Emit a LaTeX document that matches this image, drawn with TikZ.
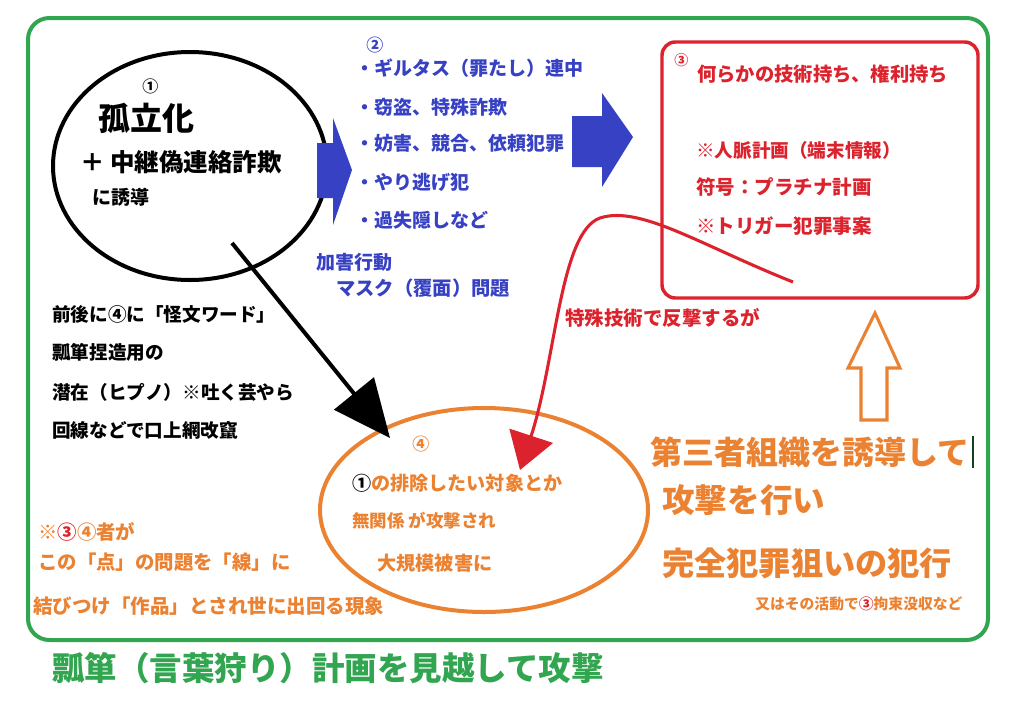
\documentclass[tikz,border=0pt]{standalone}
\usepackage{fontspec}
\setmainfont{Noto Sans CJK JP}
\usetikzlibrary{shapes.geometric,arrows.meta}
\definecolor{grn}{RGB}{50,165,80}
\definecolor{blu}{RGB}{55,65,195}
\definecolor{redc}{RGB}{220,35,45}
\definecolor{org}{RGB}{235,130,50}
\begin{document}
\begin{tikzpicture}[x=0.75pt,y=-0.75pt,
  f/.style={anchor=west,inner sep=0pt,font=\bfseries\fontsize{\the\dimexpr#1pt*3/4\relax}{\the\dimexpr#1pt*3/4\relax}\selectfont},
  frame/.style={draw=grn,line width=3pt,rounded corners=16pt,minimum width=720pt,minimum height=466.5pt,inner sep=0pt},
  redbox/.style={draw=redc,line width=2.6pt,rounded corners=10pt,minimum width=237pt,minimum height=192pt,inner sep=0pt},
  bell/.style={ellipse,draw=black,line width=3pt,minimum width=205.5pt,minimum height=171pt,inner sep=0pt},
  oell/.style={ellipse,draw=org,line width=3pt,minimum width=246pt,minimum height=153pt,inner sep=0pt}]
\useasboundingbox (0,0) rectangle (1024,725);
\fill[white] (0,0) rectangle (1024,725);
% frames
\node[frame] (fr) at (508,329) {};
\node[redbox] (rb) at (820,170) {};
\node[bell] (e1) at (190,166) {};
\node[oell] (e4) at (484,510) {};
% ellipse 1 text
\node[f=16] (n1) at (142,86) {①};
\node[f=32] (k1) at (98,118) {孤立化};
\node[f=24.5] (k2) at (80,162) {＋ 中継偽連絡詐欺};
\node[f=19] (k3) at (92,197) {に誘導};
% blue arrows
\fill[blu] (317,143) -- (333,143) -- (333,118) -- (352,170) -- (333,225) -- (333,198) -- (317,198) -- cycle;
\fill[blu] (572,116) -- (602,116) -- (602,93) -- (633,137) -- (602,187) -- (602,167) -- (572,167) -- cycle;
% blue text
\begin{scope}[blu]
\node[f=17,text=blu] (n2) at (366,45) {②};
\node[f=19,text=blu] (b1) at (355,68) {・ギルタス（罪たし）連中};
\node[f=19,text=blu] (b2) at (355,107) {・窃盗、特殊詐欺};
\node[f=19,text=blu] (b3) at (355,143) {・妨害、競合、依頼犯罪};
\node[f=19,text=blu] (b4) at (355,182) {・やり逃げ犯};
\node[f=19,text=blu] (b5) at (355,220) {・過失隠しなど};
\node[f=19,text=blu] (b6) at (316,262) {加害行動};
\node[f=19.3,text=blu] (b7) at (336,288) {マスク（覆面）問題};
\end{scope}
% red box text
\node[f=14,text=redc] (n3) at (674,60) {③};
\node[f=19.3,text=redc] (r1) at (697,74) {何らかの技術持ち、権利持ち};
\node[f=18.6,text=redc] (r2) at (696,150) {※人脈計画（端末情報）};
\node[f=19.5,text=redc] (r3) at (696,187) {符号：プラチナ計画};
\node[f=19.5,text=redc] (r4) at (696,226) {※トリガー犯罪事案};
\node[f=19.5,text=redc] (r5) at (565,318) {特殊技術で反撃するが};
% red curve
\coordinate (rs) at (793,282);
\coordinate (rt) at (520,470);
\draw[redc,line width=2.3pt,-{Triangle[length=27pt,width=34pt]}] (rs) .. controls (700,245) and (640,205) .. (600,218) .. controls (560,232) and (556,360) .. (rt);
% black left text
\node[f=18.6] (l1) at (52,314) {前後に④に「怪文ワード」};
\node[f=18.6] (l2) at (52,352) {瓢箪捏造用の};
\node[f=18.6] (l3) at (52,392) {潜在（ヒプノ）※吐く芸やら};
\node[f=18.6] (l4) at (52,430) {回線などで口上網改竄};
% black arrow
\coordinate (bs) at (232,243);
\coordinate (bt) at (390,438);
\draw[line width=3pt,-{Triangle[length=43pt,width=38pt]}] (bs) -- (bt);
% orange ellipse text
\node[f=17,text=org] (n4) at (412,444) {④};
\node[f=19.1,text=org] (o1) at (352,483) {\textcolor{black}{①}の排除したい対象とか};
\node[f=17.5,text=org] (o2) at (352,521) {無関係 が攻撃され};
\node[f=19.2,text=org] (o3) at (377,563) {大規模被害に};
% orange up arrow
\draw[org,line width=2.3pt,line join=miter] (861,420) -- (861,368) -- (848,368) -- (875,313) -- (900,368) -- (887,368) -- (887,420) -- cycle;
% orange big text
\node[f=32,text=org] (g1) at (650,452) {第三者組織を誘導して};
\draw[black!60!grn,line width=0.8pt] (973,436) -- (973,468);
\node[f=32.6,text=org] (g2) at (662,500) {攻撃を行い};
\node[f=32.2,text=org] (g3) at (662,563) {完全犯罪狙いの犯行};
\node[f=14.8,text=org] (g4) at (755,604) {又はその活動で\textcolor{redc}{③}拘束没収など};
% bottom-left orange
\node[f=19.4,text=org] (p1) at (38,532) {※\textcolor{redc}{③}④者が};
\node[f=19.4,text=org] (p2) at (38,562) {この「点」の問題を「線」に};
\node[f=19.5,text=org] (p3) at (33,606) {結びつけ「作品」とされ世に出回る現象};
% green bottom
\node[f=32.5,text=grn] (t1) at (52,668) {瓢箪（言葉狩り）計画を見越して攻撃};
\end{tikzpicture}
\end{document}
